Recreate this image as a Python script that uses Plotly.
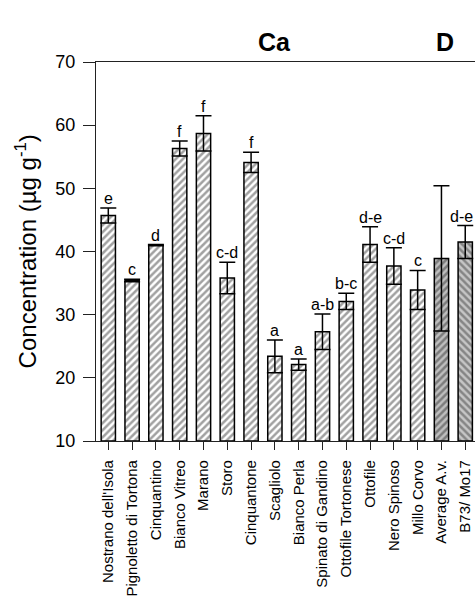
import plotly.graph_objects as go

categories = ["Nostrano dell'Isola", "Pignoletto di Tortona", "Cinquantino", "Bianco Vitreo",
              "Marano", "Storo", "Cinquantone", "Scagliolo", "Bianco Perla",
              "Spinato di Gandino", "Ottofile Tortonese", "Ottofile", "Nero Spinoso",
              "Millo Corvo", "Average A.v.", "B73/ Mo17"]
values = [45.7, 35.4, 41.0, 56.3, 58.7, 35.8, 54.1, 23.4, 22.1, 27.3, 32.1, 41.1, 37.7, 33.9, 38.9, 41.5]
errors = [1.2, 0.2, 0.1, 1.2, 2.8, 2.5, 1.6, 2.6, 0.9, 2.8, 1.3, 2.8, 2.9, 3.1, 11.5, 2.6]
letters = ["e", "c", "d", "f", "f", "c-d", "f", "a", "a", "a-b", "b-c", "d-e", "c-d", "c", "", "d-e"]
fill_colors = ["white"] * 14 + ["#7c7c7c", "#c6c6c6"]
hatch_shapes = ["/"] * 15 + ["\\"]
y_ticks = [10, 20, 30, 40, 50, 60, 70]

FONT = "Arial, Liberation Sans, sans-serif"

fig = go.Figure()
fig.add_trace(go.Bar(
    x=categories, y=[v - 10 for v in values], base=10,
    width=0.6,
    marker=dict(color=fill_colors,
                line=dict(color="black", width=1.5),
                pattern=dict(shape=hatch_shapes, fgcolor="black", bgcolor=fill_colors,
                             size=5, solidity=0.5)),
    error_y=dict(type="data", array=errors, color="black", thickness=1.5, width=8),
    showlegend=False,
))

n = len(categories)
for i, (c, v, e, t) in enumerate(zip(categories, values, errors, letters)):
    if t:
        fig.add_annotation(x=c, y=v + e, text=t, showarrow=False, yanchor="bottom",
                           yshift=-1, xshift=(-4 if i == n - 1 else 0),
                           font=dict(family=FONT, size=16, color="black"))

fig.add_annotation(xref="paper", yref="paper", x=0.472, y=1.095, text="<b>Ca</b>",
                   showarrow=False, font=dict(family=FONT, size=25, color="black"))
fig.add_annotation(xref="paper", yref="paper", x=0.95, y=1.095, text="<b>D</b>",
                   showarrow=False, font=dict(family=FONT, size=25, color="black"))
fig.add_annotation(xref="paper", yref="paper", x=-0.185, y=0.5, textangle=-90,
                   text="Concentration (µg g<sup>-1</sup>)", showarrow=False,
                   xanchor="center", yanchor="middle",
                   font=dict(family=FONT, size=24, color="black"))

fig.update_layout(
    width=475, height=596,
    margin=dict(l=96, r=0, t=62, b=155),
    paper_bgcolor="white", plot_bgcolor="white",
    font=dict(family=FONT, color="black"),
)
fig.update_xaxes(range=[-0.517, 15.41], showline=True, linecolor="#222", linewidth=1.2,
                 mirror=True, ticks="outside", ticklen=8, tickcolor="#222", tickwidth=1.2,
                 tickangle=-90, tickfont=dict(size=15, family=FONT), showgrid=False,
                 ticklabelstandoff=4)
fig.update_yaxes(range=[10, 70], tickvals=y_ticks, showline=True, linecolor="#222",
                 linewidth=1.2, ticks="outside", ticklen=12, tickcolor="#222", tickwidth=1.2,
                 tickfont=dict(size=18, family=FONT), showgrid=False, zeroline=False,
                 ticklabelstandoff=4)

fig.write_html("out.html", config={"displayModeBar": False},
               post_script="document.body.style.margin='0';document.body.style.overflow='hidden';")
